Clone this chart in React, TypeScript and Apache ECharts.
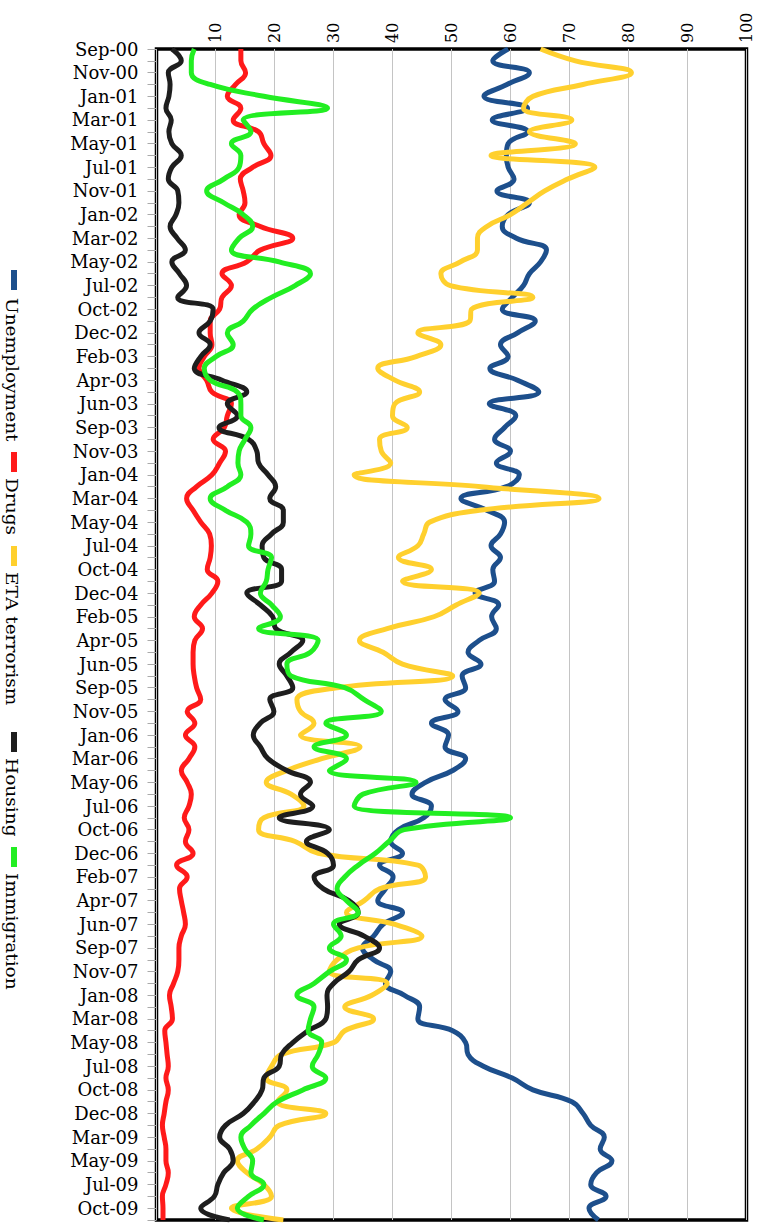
import React, { useEffect, useRef } from "react";
import * as echarts from "echarts";

const categories = [
  "Sep-00","Oct-00","Nov-00","Dec-00","Jan-01","Feb-01","Mar-01","Apr-01","May-01","Jun-01",
  "Jul-01","Sep-01","Nov-01","Dec-01","Jan-02","Feb-02","Mar-02","Apr-02","May-02","Jun-02",
  "Jul-02","Sep-02","Oct-02","Nov-02","Dec-02","Jan-03","Feb-03","Mar-03","Apr-03","May-03",
  "Jun-03","Jul-03","Sep-03","Oct-03","Nov-03","Dec-03","Jan-04","Feb-04","Mar-04","Apr-04",
  "May-04","Jun-04","Jul-04","Sep-04","Oct-04","Nov-04","Dec-04","Jan-05","Feb-05","Mar-05",
  "Apr-05","May-05","Jun-05","Jul-05","Sep-05","Oct-05","Nov-05","Dec-05","Jan-06","Feb-06",
  "Mar-06","Apr-06","May-06","Jun-06","Jul-06","Sep-06","Oct-06","Nov-06","Dec-06","Jan-07",
  "Feb-07","Mar-07","Apr-07","May-07","Jun-07","Jul-07","Sep-07","Oct-07","Nov-07","Dec-07",
  "Jan-08","Feb-08","Mar-08","Apr-08","May-08","Jun-08","Jul-08","Sep-08","Oct-08","Nov-08",
  "Dec-08","Feb-09","Mar-09","Apr-09","May-09","Jun-09","Jul-09","Sep-09","Oct-09","Nov-09"
];

const unemployment = [
  59.6, 57, 63.2, 59.4, 55.5, 62.9, 56.9, 62.9, 59.6, 59.3, 59.6, 60.6, 57.7, 63.2, 59.6, 58.6,
  61, 66.1, 65.1, 63.2, 62.2, 60.3, 58.6, 64.2, 61.2, 58.3, 59.6, 56.5, 61.2, 64.8, 56.4, 60.9,
  59, 57.3, 60, 57.6, 61.5, 59.3, 51.6, 56, 59, 58.3, 56.7, 58.3, 57, 57.3, 54, 58,
  56.8, 57.6, 54.7, 52.8, 55, 51.8, 52.4, 48.9, 51.1, 46.6, 49.5, 48.9, 52.4, 50.2, 45.6, 43.3,
  46.6, 45.3, 41, 39.7, 41.7, 37.8, 40.1, 38.8, 37.5, 41.7, 38.4, 36.8, 34.9, 36.8, 39.7, 38.8,
  42, 44.6, 44.3, 50.2, 52.4, 52.8, 55.4, 60.3, 63.8, 70.4, 72.3, 73.6, 75.9, 75.2, 77.2, 74.6, 73.6, 76.2, 73.3, 74.9
];

const drugs = [
  14.3, 14.3, 15.1, 13.4, 12, 14.3, 13, 17.3, 18.2, 19.4, 16.3, 14.2, 14.7, 15, 14, 17.6,
  23.1, 17.6, 15.3, 11.1, 12.7, 11.1, 10.7, 9.1, 9.1, 9.4, 8.1, 7.2, 8.5, 9.4, 12.7, 12,
  11.5, 9.6, 11.7, 10.7, 9.4, 6.8, 5.1, 6.2, 7.5, 9, 9.3, 9.1, 8.6, 10.4, 9.4, 7.5,
  6.4, 7.8, 6.5, 6.2, 6.2, 6.4, 6.8, 7.5, 5.2, 6.5, 4.9, 6.5, 5.5, 4.2, 5.2, 5.9,
  5.5, 4.7, 5.5, 4.9, 6.2, 3.4, 5.2, 3.9, 4.2, 4.6, 4.9, 4.2, 3.8, 3.8, 3.6, 2.9,
  2.2, 2.5, 2.7, 1.4, 1.6, 1.8, 2, 1.6, 2, 1.6, 1.3, 1, 1.3, 1.6, 1.6, 2, 1.6, 1, 1.1, 1.1
];

const eta = [
  65.1, 71, 80.5, 72.3, 63.8, 62.2, 70.4, 63.2, 71, 56.7, 74.3, 69.7, 65.8, 62.9, 60, 56,
  54.4, 54.4, 51.5, 48.2, 49.8, 63.8, 53.4, 53.1, 44.3, 48.2, 44, 37.5, 40.4, 44.6, 40.4, 40,
  42.5, 37.8, 38.1, 39.7, 33.5, 55, 75, 54.7, 46.3, 45.3, 44.3, 41, 46.6, 41.7, 54.7, 50.8,
  47, 39.1, 34.4, 38.4, 41.7, 50.2, 30.6, 23.8, 24.4, 26.7, 24.4, 34.5, 28, 22.1, 18.6, 22.8,
  25, 18.2, 17.3, 23.5, 27.4, 44.3, 45.6, 37.8, 35.2, 32.2, 40.4, 45, 34.2, 30.6, 29.3, 39.1,
  36.5, 31.9, 36.8, 31.9, 30, 21.2, 19.5, 18.6, 22.1, 20.5, 28.7, 20.8, 19.2, 17, 13.7, 15.3, 18.2, 19.5, 12.7, 21.5
];

const housing = [
  2.6, 4.2, 2, 2.3, 2.1, 1.6, 2.5, 2.1, 2.6, 4.2, 2.6, 2, 3.6, 3.8, 3.3, 2.3,
  3.5, 4.9, 2.6, 3.9, 5.1, 3.6, 9.6, 9.1, 7.2, 9.1, 7.5, 6.4, 11.1, 15.3, 12, 13.7,
  10.6, 15.6, 17, 17.3, 18.9, 20.2, 19.2, 21.5, 21.5, 19.5, 17.9, 18.2, 21.2, 21.2, 15.3, 17.6,
  19.7, 20.2, 24.8, 22.8, 20.8, 22.1, 23.1, 19.2, 19.9, 17.6, 16.4, 17.6, 18.9, 22.1, 26.1, 24.4,
  26.5, 20.8, 29.3, 25.4, 29, 30, 26.7, 28.3, 32.6, 34.2, 31, 35.2, 37.8, 34.2, 32.6, 30,
  28.9, 29, 28.7, 25.7, 23.1, 21.2, 20.8, 18.2, 17.9, 16.6, 14.7, 11.7, 10.7, 12.4, 13, 11.4, 10.4, 9.8, 7.5, 12.4
];

const immigration = [
  6.4, 5.9, 5.9, 9.1, 18.2, 29, 14.7, 16, 12.7, 14.3, 14, 11.4, 8.5, 11.4, 14.7, 16.3,
  14, 12.7, 20.8, 26.1, 23.5, 19.5, 16.3, 14.7, 12, 13, 10.1, 8.1, 9.1, 13.7, 14.3, 14.3,
  16, 15, 14, 13.8, 14.3, 12, 9.1, 11.7, 15.3, 16, 15.6, 19.5, 18.9, 18.6, 17.6, 19.5,
  21, 17.3, 27.4, 26.1, 22.1, 22.8, 31.9, 35.2, 38.1, 28.7, 32.2, 26.7, 32.2, 29.3, 44, 35,
  33.5, 60, 42, 39.4, 37.1, 34.2, 31.9, 30.6, 32.2, 34.2, 30, 31.3, 29.3, 32.2, 29.3, 26.7,
  23.8, 26.7, 26.1, 25.7, 28, 27.4, 26.4, 28.7, 24.8, 20.5, 18.2, 16, 14.3, 15, 16.3, 16, 18.2, 15.6, 13.7, 18.2
];

const seriesNames = ["Unemployment", "Drugs", "ETA terrorism", "Housing", "Immigration"];
const seriesColors = ["#1d4f8c", "#ff1a1a", "#ffd02e", "#1e1e1e", "#22ee22"];
const seriesData = [unemployment, drugs, eta, housing, immigration];

const FONT = "DejaVu Serif";

export default function App() {
  const ref = useRef<HTMLDivElement>(null);

  useEffect(() => {
    document.body.style.margin = "0";
    if (!ref.current) return;
    const chart = echarts.init(ref.current, null, { renderer: "svg" });

    // legend (rotated 90° clockwise), drawn as graphics
    const markerStarts = [270, 452, 546, 732, 847];
    const textStarts = [298, 478, 572, 758, 873];
    const legendChildren: any[] = [];
    seriesNames.forEach((name, i) => {
      legendChildren.push({
        type: "rect",
        shape: { x: markerStarts[i], y: -3, width: 20, height: 6 },
        style: { fill: seriesColors[i] },
      });
      legendChildren.push({
        type: "text",
        x: textStarts[i],
        y: 2.5,
        scaleX: 1.16,
        style: {
          text: name,
          fill: "#000",
          font: `16px "${FONT}"`,
          align: "left",
          verticalAlign: "middle",
        },
      });
    });

    chart.setOption({
      animation: false,
      backgroundColor: "#fff",
      grid: {
        left: 156.5,
        right: 22.5,
        top: 49,
        bottom: 4,
        show: true,
        borderColor: "#000",
        borderWidth: 3.5,
        containLabel: false,
      },
      xAxis: {
        type: "value",
        position: "top",
        min: 0,
        max: 100,
        interval: 10,
        axisLine: { show: false },
        axisTick: { show: false },
        splitLine: { show: true, lineStyle: { color: "#c4c4c4", width: 1 } },
        axisLabel: {
          rotate: -90,
          margin: 6,
          showMinLabel: false,
          fontFamily: FONT,
          fontSize: 16,
          color: "#000",
        },
      },
      yAxis: {
        type: "category",
        inverse: true,
        boundaryGap: false,
        data: categories,
        axisLine: { show: false },
        axisTick: { show: true, interval: 0, length: 9, lineStyle: { color: "#aaaaaa" } },
        axisLabel: {
          interval: 1,
          margin: 18,
          fontFamily: FONT,
          fontSize: 18,
          color: "#000",
        },
        splitLine: { show: false },
      },
      series: seriesNames.map((name, i) => ({
        name,
        type: "line",
        data: seriesData[i],
        smooth: 0.45,
        symbol: "none",
        lineStyle: { width: 5, color: seriesColors[i] },
        itemStyle: { color: seriesColors[i] },
      })),
      graphic: [
        {
          type: "group",
          x: 14,
          y: 0,
          rotation: -Math.PI / 2,
          children: legendChildren,
        },
      ],
    });

    return () => chart.dispose();
  }, []);

  return <div ref={ref} style={{ width: 769, height: 1224 }} />;
}
